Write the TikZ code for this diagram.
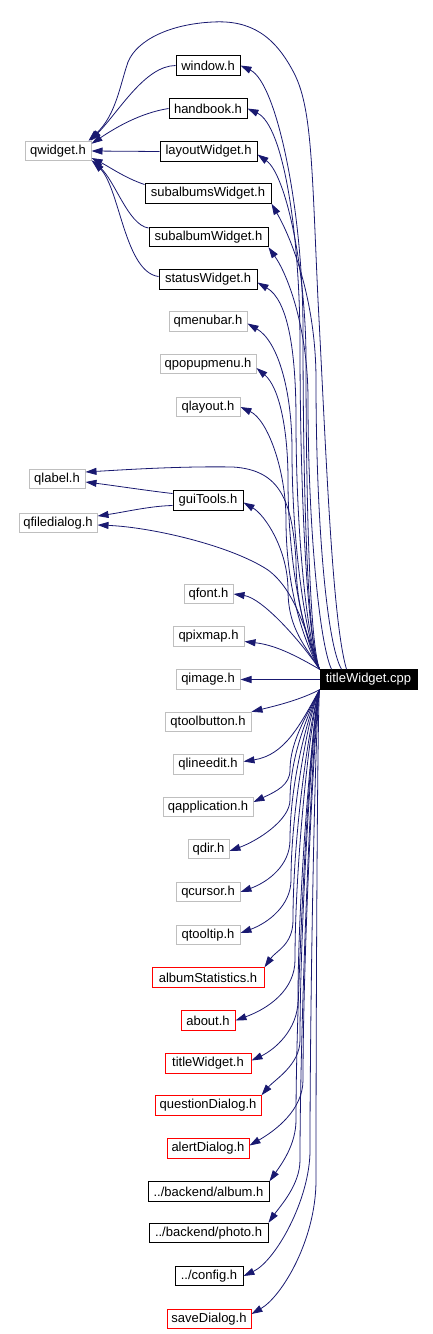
\documentclass[tikz,border=0pt]{standalone}
\usepackage{fontspec}
\setmainfont{Liberation Sans}
\usetikzlibrary{arrows.meta}
\definecolor{edgeblue}{HTML}{191970}
\definecolor{boxgray}{HTML}{BFBFBF}
\definecolor{boxred}{HTML}{FF0000}
\begin{document}
\begin{tikzpicture}[x=1pt,y=1pt,
  hdr/.style={draw, line width=1pt, rectangle, inner sep=0pt, minimum height=19.5pt, font=\fontsize{13}{15}\selectfont, text=black},
  sys/.style={hdr, draw=boxgray},
  loc/.style={hdr, draw=black},
  miss/.style={hdr, draw=boxred},
  root/.style={hdr, draw=black, fill=black, text=white},
  dep/.style={draw=edgeblue, line width=0.8pt, -{Triangle[length=11pt,width=7pt]}}]
\useasboundingbox (0,0) rectangle (433,-1334);
% nodes
\node[loc, minimum width=64pt]  (win)  at (208,-65.5)  {window.h};
\node[loc, minimum width=78pt]  (hb)   at (208,-108.5) {handbook.h};
\node[loc, minimum width=97pt]  (lw)   at (208.5,-151.5) {layoutWidget.h};
\node[loc, minimum width=126pt] (saws) at (208,-193.5) {subalbumsWidget.h};
\node[loc, minimum width=119pt] (saw)  at (208.5,-237) {subalbumWidget.h};
\node[loc, minimum width=98pt]  (sw)   at (208,-279.5) {statusWidget.h};
\node[sys, minimum width=78pt]  (qmb)  at (208,-321.5) {qmenubar.h};
\node[sys, minimum width=96pt]  (qpm)  at (208,-364) {qpopupmenu.h};
\node[sys, minimum width=64pt]  (qlay) at (208,-407) {qlayout.h};
\node[loc, minimum width=70pt]  (gui)  at (208,-500.5) {guiTools.h};
\node[sys, minimum width=49pt]  (qfont) at (208.5,-594) {qfont.h};
\node[sys, minimum width=71pt]  (qpix) at (208.5,-636.5) {qpixmap.h};
\node[sys, minimum width=64pt]  (qimg) at (208,-679.5) {qimage.h};
\node[sys, minimum width=86pt]  (qtb)  at (208,-722) {qtoolbutton.h};
\node[sys, minimum width=70pt]  (qle)  at (208,-764.5) {qlineedit.h};
\node[sys, minimum width=90pt]  (qapp) at (208,-807) {qapplication.h};
\node[sys, minimum width=41pt]  (qdir) at (208.5,-849) {qdir.h};
\node[sys, minimum width=64pt]  (qcur) at (208,-892) {qcursor.h};
\node[sys, minimum width=64pt]  (qtt)  at (208,-935) {qtooltip.h};
\node[miss, minimum width=112pt] (ast) at (208,-977.5) {albumStatistics.h};
\node[miss, minimum width=54pt] (about) at (208,-1020.5) {about.h};
\node[miss, minimum width=86pt] (twh)  at (208,-1063.5) {titleWidget.h};
\node[miss, minimum width=106pt] (qd)  at (208,-1105.5) {questionDialog.h};
\node[miss, minimum width=82pt] (ad)   at (208,-1148.5) {alertDialog.h};
\node[loc, minimum width=121pt] (balb) at (208.5,-1191.5) {../backend/album.h};
\node[loc, minimum width=119pt] (bph)  at (208.5,-1233) {../backend/photo.h};
\node[loc, minimum width=68pt]  (cfg)  at (209,-1276) {../config.h};
\node[miss, minimum width=84pt] (sd)   at (209,-1319) {saveDialog.h};
\node[sys, minimum width=66pt]  (qw)   at (58,-151) {qwidget.h};
\node[sys, minimum width=56pt]  (qlab) at (57,-479) {qlabel.h};
\node[sys, minimum width=78pt]  (qfd)  at (58,-523) {qfiledialog.h};
\node[root, minimum width=97pt] (cpp)  at (368.5,-679.5) {titleWidget.cpp};
% edges into qwidget.h
\draw[dep] (win.west) .. controls (145,-66) and (120,-110) .. ([xshift=-1pt]qw.north east);
\draw[dep] (hb.west) .. controls (140,-113) and (115,-128) .. ([yshift=-3pt]qw.north east);
\draw[dep] (lw.west) -- (qw.east);
\draw[dep] ([yshift=9pt]saws.west) .. controls (125,-178) and (108,-166) .. ([yshift=-7pt]qw.east);
\draw[dep] ([yshift=9pt]saw.west) .. controls (128,-225) and (115,-180) .. ([yshift=1pt]qw.south east);
\draw[dep] ([yshift=3pt]sw.west) .. controls (125,-272) and (120,-190) .. ([xshift=2pt]qw.south east);
\draw[dep] ([xshift=27pt]cpp.north west) .. controls (332,-620) and (326,-450) .. (318,-300)
  .. controls (312,-170) and (312,-110) .. (295,-75)
  .. controls (275,-35) and (250,-20) .. (213,-22)
  .. controls (170,-24) and (137,-40) .. (128,-62)
  .. controls (120,-85) and (116,-115) .. ([xshift=-3pt]qw.north east);
% guiTools
\draw[dep] ([yshift=7pt]gui.west) .. controls (150,-491) and (110,-485) .. ([yshift=-3pt]qlab.east);
\draw[dep] ([yshift=-5pt]gui.west) .. controls (150,-506) and (125,-512) .. ([yshift=7pt]qfd.east);
% upper edges from titleWidget.cpp
\draw[dep] (cpp.north west) to[out=115,in=-90,out distance=30pt,in distance=150pt] (303,-330) to[out=90,in=-25,out distance=120pt,in distance=40pt] (win.east);
\draw[dep] (cpp.north west) to[out=115,in=-90,out distance=30pt,in distance=140pt] (300,-345) to[out=90,in=-25,out distance=110pt,in distance=40pt] (hb.east);
\draw[dep] (cpp.north west) to[out=110,in=-90,out distance=30pt,in distance=130pt] (306,-360) to[out=90,in=-35,out distance=90pt,in distance=35pt] ([yshift=-3pt]lw.east);
\draw[dep] ([xshift=22pt]cpp.north west) to[out=120,in=-90,out distance=30pt,in distance=140pt] (316,-380) to[out=90,in=-60,out distance=80pt,in distance=40pt] (saws.south east);
\draw[dep] ([xshift=12pt]cpp.north west) to[out=115,in=-90,out distance=30pt,in distance=120pt] (308,-400) to[out=90,in=-55,out distance=70pt,in distance=35pt] (saw.south east);
\draw[dep] (cpp.north west) to[out=115,in=-90,out distance=30pt,in distance=110pt] (296,-420) to[out=90,in=-30,out distance=70pt,in distance=35pt] ([yshift=-3pt]sw.east);
\draw[dep] (cpp.north west) to[out=115,in=-90,out distance=30pt,in distance=100pt] (292,-450) to[out=90,in=-30,out distance=60pt,in distance=35pt] ([yshift=-2pt]qmb.east);
\draw[dep] (cpp.north west) to[out=118,in=-90,out distance=30pt,in distance=90pt] (288,-480) to[out=90,in=-40,out distance=50pt,in distance=30pt] ([yshift=-4pt]qpm.east);
\draw[dep] (cpp.north west) to[out=120,in=-90,out distance=30pt,in distance=70pt] (286,-520) to[out=90,in=-25,out distance=50pt,in distance=30pt] (qlay.east);
\draw[dep] (cpp.north west) to[out=120,in=-90,out distance=25pt,in distance=40pt] (288,-590) to[out=90,in=-30,out distance=40pt,in distance=25pt] ([yshift=-2pt]gui.east);
\draw[dep] (cpp.north west) to[out=110,in=-90,out distance=30pt,in distance=50pt] (296,-560) .. controls (292,-500) and (280,-470) .. (233,-467) .. controls (180,-466) and (120,-470) .. ([yshift=7pt]qlab.east);
\draw[dep] (cpp.north west) .. controls (305,-630) and (295,-590) .. (268,-570) .. controls (230,-545) and (150,-527) .. ([yshift=-2pt]qfd.east);
\draw[dep] (cpp.north west) .. controls (300,-640) and (262,-598) .. (qfont.east);
\draw[dep] (cpp.north west) .. controls (295,-655) and (275,-645) .. ([yshift=-5pt]qpix.east);
\draw[dep] (cpp.west) -- (qimg.east);
% lower edges from titleWidget.cpp
\draw[dep] (cpp.south west) .. controls (300,-700) and (275,-706) .. (qtb.north east);
\draw[dep] (cpp.south west) .. controls (300,-725) and (285,-755) .. ([yshift=3pt]qle.east);
\draw[dep] (cpp.south west) to[out=-115,in=90,out distance=25pt,in distance=30pt] (290,-770) to[out=-90,in=25,out distance=15pt,in distance=25pt] ([yshift=5pt]qapp.east);
\draw[dep] (cpp.south west) to[out=-115,in=90,out distance=25pt,in distance=45pt] (290,-800) to[out=-90,in=20,out distance=20pt,in distance=30pt] ([yshift=-2pt]qdir.east);
\draw[dep] (cpp.south west) to[out=-115,in=90,out distance=25pt,in distance=60pt] (290,-840) to[out=-90,in=20,out distance=25pt,in distance=30pt] (qcur.east);
\draw[dep] (cpp.south west) to[out=-115,in=90,out distance=25pt,in distance=70pt] (291,-880) to[out=-90,in=20,out distance=25pt,in distance=30pt] ([yshift=2pt]qtt.east);
\draw[dep] (cpp.south west) to[out=-110,in=90,out distance=25pt,in distance=90pt] (293,-920) to[out=-90,in=55,out distance=25pt,in distance=20pt] (ast.north east);
\draw[dep] (cpp.south west) to[out=-110,in=90,out distance=25pt,in distance=100pt] (295,-960) to[out=-90,in=20,out distance=30pt,in distance=35pt] (about.east);
\draw[dep] (cpp.south west) to[out=-105,in=90,out distance=25pt,in distance=110pt] (298,-1000) to[out=-90,in=25,out distance=30pt,in distance=25pt] ([yshift=3pt]twh.east);
\draw[dep] (cpp.south west) to[out=-105,in=90,out distance=25pt,in distance=120pt] (300,-1040) to[out=-90,in=50,out distance=25pt,in distance=20pt] (qd.north east);
\draw[dep] (cpp.south west) to[out=-100,in=90,out distance=25pt,in distance=130pt] (303,-1080) to[out=-90,in=30,out distance=30pt,in distance=30pt] ([yshift=3pt]ad.east);
\draw[dep] (cpp.south west) to[out=-110,in=90,out distance=25pt,in distance=140pt] (296,-1120) to[out=-90,in=55,out distance=25pt,in distance=20pt] (balb.north east);
\draw[dep] (cpp.south west) to[out=-105,in=90,out distance=25pt,in distance=150pt] (300,-1160) to[out=-90,in=55,out distance=25pt,in distance=20pt] (bph.north east);
\draw[dep] (cpp.south west) to[out=-100,in=90,out distance=25pt,in distance=150pt] (310,-1150) to[out=-90,in=25,out distance=50pt,in distance=35pt] (cfg.east);
\draw[dep] (cpp.south west) to[out=-95,in=90,out distance=25pt,in distance=160pt] (316,-1180) to[out=-90,in=30,out distance=60pt,in distance=35pt] ([yshift=5pt]sd.east);
\end{tikzpicture}
\end{document}
